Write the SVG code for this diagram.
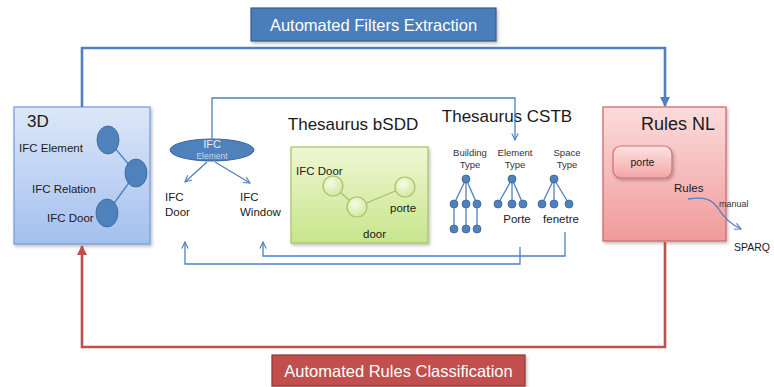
<svg xmlns="http://www.w3.org/2000/svg" width="774" height="387" viewBox="0 0 774 387">
  <defs>
    <linearGradient id="gBlue" x1="0" y1="0" x2="0" y2="1">
      <stop offset="0" stop-color="#dde7f8"/>
      <stop offset="1" stop-color="#a3c0ef"/>
    </linearGradient>
    <linearGradient id="gRed" x1="0" y1="0" x2="0" y2="1">
      <stop offset="0" stop-color="#fcdcdc"/>
      <stop offset="1" stop-color="#f09a9a"/>
    </linearGradient>
    <linearGradient id="gGreen" x1="0" y1="0" x2="0" y2="1">
      <stop offset="0" stop-color="#eff7d3"/>
      <stop offset="1" stop-color="#c8e58c"/>
    </linearGradient>
    <linearGradient id="gPorte" x1="0" y1="0" x2="0" y2="1">
      <stop offset="0" stop-color="#fde3e3"/>
      <stop offset="1" stop-color="#f3a5a5"/>
    </linearGradient>
    <radialGradient id="gBall" cx="0.4" cy="0.35" r="0.7">
      <stop offset="0" stop-color="#f6fbe6"/>
      <stop offset="1" stop-color="#cfe89a"/>
    </radialGradient>
    <filter id="shadow" x="-10%" y="-10%" width="130%" height="130%">
      <feDropShadow dx="1.5" dy="2" stdDeviation="1.5" flood-color="#000" flood-opacity="0.25"/>
    </filter>
    <marker id="bigBlue" viewBox="0 0 10 10" refX="9" refY="5" markerWidth="4" markerHeight="4" orient="auto">
      <path d="M0,0 L10,5 L0,10 z" fill="#4f81bd"/>
    </marker>
    <marker id="bigRed" viewBox="0 0 10 10" refX="9" refY="5" markerWidth="4" markerHeight="4" orient="auto">
      <path d="M0,0 L10,5 L0,10 z" fill="#c0504d"/>
    </marker>
    <marker id="open" viewBox="0 0 10 10" refX="9" refY="5" markerWidth="8" markerHeight="8" orient="auto" markerUnits="userSpaceOnUse">
      <path d="M1,1 L9,5 L1,9" fill="none" stroke="#4f81bd" stroke-width="1.4"/>
    </marker>
  </defs>
  <style>
    text { font-family: "Liberation Sans", Arial, sans-serif; fill: #1a1a1a; }
    .lbl { font-size: 11.5px; }
    .small { font-size: 9.5px; fill: #333; }
    .title { font-size: 17px; }
    .thin { fill: none; stroke: #4f81bd; stroke-width: 1.3; }
    .dot { fill: #4f81bd; stroke: #3a659b; stroke-width: 0.8; }
    .tree { stroke: #4f81bd; stroke-width: 1.3; }
    .ball { fill: url(#gBall); stroke: #a4c165; stroke-width: 1.2; }
  </style>

  <g id="label-filters">
    <rect x="251" y="8" width="245" height="33" fill="#4a7ebb" stroke="#385d8a" stroke-width="1.2" filter="url(#shadow)"/>
    <text x="373.5" y="30.5" text-anchor="middle" style="font-size:16.5px;fill:#ffffff">Automated Filters Extraction</text>
  </g>

  <g id="label-rules">
    <rect x="272" y="355" width="253" height="31" fill="#c0504d" stroke="#8c3836" stroke-width="1.2" filter="url(#shadow)"/>
    <text x="398.5" y="376.5" text-anchor="middle" style="font-size:16.5px;fill:#ffffff">Automated Rules Classification</text>
  </g>

  <g id="node-3d">
    <rect x="14" y="107" width="136" height="137" fill="url(#gBlue)" stroke="#7b9fd4" stroke-width="1.3" filter="url(#shadow)"/>
    <text x="27" y="127" style="font-size:17px">3D</text>
    <line x1="108" y1="140" x2="136" y2="173" stroke="#4f81bd" stroke-width="1.3"/>
    <line x1="136" y1="173" x2="107" y2="213" stroke="#4f81bd" stroke-width="1.3"/>
    <ellipse cx="108" cy="140" rx="11" ry="14" class="dot"/>
    <ellipse cx="136" cy="173" rx="11" ry="14" class="dot"/>
    <ellipse cx="107" cy="213" rx="11" ry="14" class="dot"/>
    <text x="19" y="152" class="lbl">IFC Element</text>
    <text x="32" y="193" class="lbl">IFC Relation</text>
    <text x="47" y="222" class="lbl">IFC Door</text>
  </g>

  <g id="node-ifc-hierarchy">
    <ellipse cx="212" cy="150" rx="42" ry="11" fill="#4f81bd" stroke="#3a659b" stroke-width="1"/>
    <text x="212" y="148" text-anchor="middle" style="font-size:11px;fill:#e8eef8">IFC</text>
    <text x="212" y="159" text-anchor="middle" style="font-size:8.5px;fill:#c8d6ee">Element</text>
    <text x="165" y="201" class="lbl">IFC</text>
    <text x="165" y="216" class="lbl">Door</text>
    <text x="240" y="201" class="lbl">IFC</text>
    <text x="240" y="216" class="lbl">Window</text>
  </g>

  <g id="node-bsdd">
    <text x="353" y="130" text-anchor="middle" class="title">Thesaurus bSDD</text>
    <rect x="291" y="147" width="137" height="96" fill="url(#gGreen)" stroke="#a4c165" stroke-width="1.2" filter="url(#shadow)"/>
    <line x1="333" y1="186" x2="357" y2="207" stroke="#a4c165" stroke-width="1.3"/>
    <line x1="357" y1="207" x2="405" y2="187" stroke="#a4c165" stroke-width="1.3"/>
    <circle cx="333" cy="186" r="10" class="ball"/>
    <circle cx="357" cy="207" r="10" class="ball"/>
    <circle cx="405" cy="187" r="10" class="ball"/>
    <text x="296" y="175" class="lbl">IFC Door</text>
    <text x="390" y="212" class="lbl">porte</text>
    <text x="363" y="238" class="lbl">door</text>
  </g>

  <g id="node-cstb">
    <text x="507" y="122" text-anchor="middle" class="title">Thesaurus CSTB</text>
    <text x="470" y="156" text-anchor="middle" class="small">Building</text>
    <text x="470" y="168" text-anchor="middle" class="small">Type</text>
    <text x="515" y="156" text-anchor="middle" class="small">Element</text>
    <text x="515" y="168" text-anchor="middle" class="small">Type</text>
    <text x="567" y="156" text-anchor="middle" class="small">Space</text>
    <text x="567" y="168" text-anchor="middle" class="small">Type</text>
    <!-- the three type trees -->
    <g class="tree">
      <line x1="466" y1="179" x2="454" y2="204"/>
      <line x1="466" y1="179" x2="466" y2="204"/>
      <line x1="466" y1="179" x2="477" y2="204"/>
      <line x1="454" y1="204" x2="454" y2="229"/>
      <line x1="466" y1="204" x2="466" y2="229"/>
      <line x1="477" y1="204" x2="477" y2="229"/>
      <line x1="512" y1="179" x2="498" y2="204"/>
      <line x1="512" y1="179" x2="512" y2="204"/>
      <line x1="512" y1="179" x2="523" y2="204"/>
      <line x1="554" y1="179" x2="542" y2="204"/>
      <line x1="554" y1="179" x2="554" y2="204"/>
      <line x1="554" y1="179" x2="569" y2="204"/>
    </g>
    <circle cx="466" cy="179" r="4" class="dot"/>
    <circle cx="454" cy="204" r="4" class="dot"/>
    <circle cx="466" cy="204" r="4" class="dot"/>
    <circle cx="477" cy="204" r="4" class="dot"/>
    <circle cx="454" cy="229" r="4" class="dot"/>
    <circle cx="466" cy="229" r="4" class="dot"/>
    <circle cx="477" cy="229" r="4" class="dot"/>
    <circle cx="512" cy="179" r="4" class="dot"/>
    <circle cx="498" cy="204" r="4" class="dot"/>
    <circle cx="512" cy="204" r="4" class="dot"/>
    <circle cx="523" cy="204" r="4" class="dot"/>
    <circle cx="554" cy="179" r="4" class="dot"/>
    <circle cx="542" cy="204" r="4" class="dot"/>
    <circle cx="554" cy="204" r="4" class="dot"/>
    <circle cx="569" cy="204" r="4" class="dot"/>
    <text x="517" y="223" text-anchor="middle" class="lbl">Porte</text>
    <text x="561" y="223" text-anchor="middle" class="lbl">fenetre</text>
  </g>

  <g id="node-rules-nl">
    <rect x="603" y="107" width="123" height="134" fill="url(#gRed)" stroke="#cf6a6a" stroke-width="1.3" filter="url(#shadow)"/>
    <text x="678" y="130" text-anchor="middle" style="font-size:18px">Rules NL</text>
    <rect x="613" y="146" width="59" height="32" rx="8" fill="url(#gPorte)" stroke="#d27070" stroke-width="1.2" filter="url(#shadow)"/>
    <text x="642.5" y="166" text-anchor="middle" style="font-size:10.5px">porte</text>
    <text x="674" y="192" class="lbl">Rules</text>
    <text x="719" y="207" style="font-size:9px;fill:#333">manual</text>
  </g>

  <g id="node-sparql">
    <text x="734" y="251" style="font-size:10.5px">SPARQ</text>
  </g>

  <!-- connectors drawn last so the ones starting inside a box stay visible -->
  <g id="connectors">
    <polyline points="82,107 82,48 665,48 665,106" fill="none" stroke="#4f81bd" stroke-width="2.6" marker-end="url(#bigBlue)"/>
    <polyline points="665,242 665,347 82,347 82,246" fill="none" stroke="#c0504d" stroke-width="2.6" marker-end="url(#bigRed)"/>
    <!-- IFC element to CSTB -->
    <polyline class="thin" points="212,139 212,98 515,98 515,140" marker-end="url(#open)"/>
    <!-- IFC element specialisations -->
    <line class="thin" x1="207" y1="162" x2="185" y2="182" marker-end="url(#open)"/>
    <line class="thin" x1="215" y1="162" x2="250" y2="183" marker-end="url(#open)"/>
    <!-- CSTB terms back to IFC classes -->
    <polyline class="thin" points="520,247 520,264 185,264 185,242" marker-end="url(#open)"/>
    <polyline class="thin" points="565,232 565,256 263,256 263,242" marker-end="url(#open)"/>
    <!-- manual rules to SPARQL -->
    <path class="thin" d="M688,199 C705,196 712,200 718,208 C724,218 730,224 741,229" marker-end="url(#open)"/>
  </g>
</svg>
